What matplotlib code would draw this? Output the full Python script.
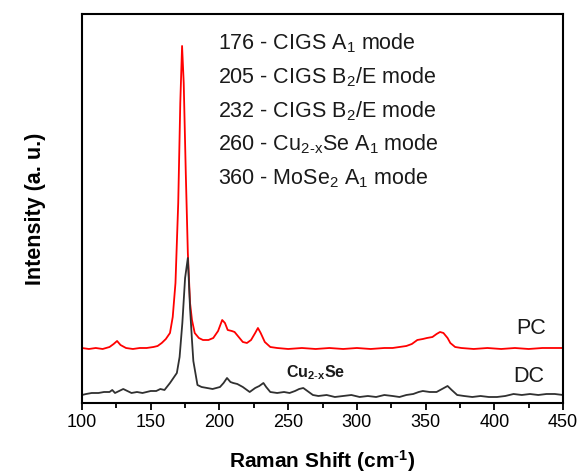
import numpy as np
import matplotlib
matplotlib.use("Agg")
import matplotlib.pyplot as plt

plt.rcParams['font.family'] = ['Liberation Sans', 'DejaVu Sans']
plt.rcParams['mathtext.fontset'] = 'custom'
plt.rcParams['mathtext.rm'] = 'Liberation Sans'
plt.rcParams['mathtext.it'] = 'Liberation Sans'
plt.rcParams['mathtext.bf'] = 'Liberation Sans:bold'
plt.rcParams['mathtext.default'] = 'regular'

# Raman spectra (arbitrary intensity units)
pc_shift = [100, 105, 110, 115, 120, 123, 125.5, 128, 132, 137, 142, 147, 152, 155, 158, 161,
            164, 166, 168, 170, 171.5, 172.8, 174, 175.5, 177, 178.6, 180, 182, 185, 188,
            192, 195.5, 199, 202, 204, 206, 209, 211, 214, 217, 220, 223, 226, 228, 230,
            233, 237, 242, 250, 260, 270, 280, 290, 300, 310, 320, 326, 331, 336, 340,
            344, 348, 351, 355, 358, 360.5, 363, 366, 368, 371.5, 376, 385, 395, 405,
            415, 425, 435, 445, 450]
pc_int = [55, 54, 55, 54, 56, 59, 62, 58, 55, 54, 55, 55, 56, 57, 60, 64,
          70, 86, 120, 200, 300, 357, 320, 230, 150, 100, 83, 70, 65, 63,
          63, 65, 72, 83, 80, 73, 72, 71, 66, 61, 60, 63, 70, 75, 70,
          61, 56, 55, 54, 55, 54, 55, 54, 55, 54, 55, 55, 56, 57, 59,
          63, 64, 65, 66, 69, 71, 70, 65, 60, 56, 55, 54, 55, 54,
          55, 54, 55, 55, 55]

dc_shift = [100, 103, 107, 112, 116, 120, 122, 124, 127, 130, 133, 136, 140, 144, 147, 150,
            154, 157, 160, 164, 167, 169, 171, 173, 175, 177, 178.6, 180, 181, 182.5, 184,
            187, 191, 195, 200.4, 203, 205.5, 208, 210, 213, 217, 220, 222, 226, 229, 232,
            234, 237, 242, 247, 251, 255, 258, 261, 264, 268, 272, 278, 284, 290, 296, 302,
            308, 314, 320, 326, 331, 336, 341, 345, 348, 353, 358, 362, 366, 369, 373,
            378, 384, 390, 396, 402, 408, 414, 420, 426, 432, 438, 444, 450]
dc_int = [8, 9, 10, 10, 11, 11, 13, 10, 12, 14, 12, 10, 11, 10, 11, 12,
          12, 14, 13, 20, 26, 30, 46, 80, 125, 145, 95, 63, 42, 30, 18,
          16, 15, 14, 16, 20, 25, 21, 20, 19, 16, 13, 11, 15, 17, 20,
          16, 11, 10, 11, 10, 12, 14, 15, 12, 8, 7, 8, 6, 7, 8, 6,
          7, 6, 8, 7, 6, 8, 9, 11, 12, 11, 11, 14, 17, 13, 8,
          7, 6, 7, 6, 6, 7, 9, 8, 9, 8, 9, 9, 8]

mode_labels = [r"176 - CIGS A$_1$ mode",
               r"205 - CIGS B$_2$/E mode",
               r"232 - CIGS B$_2$/E mode",
               r"260 - Cu$_{2\text{-}x}$Se A$_1$ mode",
               r"360 - MoSe$_2$ A$_1$ mode"]

fig = plt.figure(figsize=(5.83, 4.74), dpi=100)
ax = fig.add_axes([0.1407, 0.1498, 0.825, 0.8207])

ax.plot(pc_shift, pc_int, color='#ff0000', lw=1.3)
ax.plot(dc_shift, dc_int, color='#303030', lw=1.3)

ax.set_xlim(100, 450)
ax.set_ylim(0, 389)
ax.set_xticks(np.arange(100, 451, 50))
ax.set_xticks(np.arange(125, 450, 50), minor=True)
ax.set_yticks([])
ax.tick_params(axis='x', which='major', direction='out', length=5, width=1.3,
               labelsize=13, top=False, pad=3)
ax.tick_params(axis='x', which='minor', direction='out', length=3.5, width=1.3, top=False)
for s in ax.spines.values():
    s.set_linewidth(1.5)

ax.set_xlabel("Raman Shift (cm$^{\\mathbf{\u2010 1}}$)", fontsize=15, fontweight='bold', labelpad=12)
ax.set_ylabel("Intensity (a. u.)", fontsize=15.5, fontweight='bold', labelpad=26)

for i, lab in enumerate(mode_labels):
    ax.text(0.283, 0.925 - i * 0.087, lab, transform=ax.transAxes, fontsize=15.5,
            va='center', ha='left', color='#1a1a1a')

ax.text(0.965, 0.192, "PC", transform=ax.transAxes, fontsize=15.5, ha='right', va='center',
        color='#1a1a1a')
ax.text(0.96, 0.069, "DC", transform=ax.transAxes, fontsize=15.5, ha='right', va='center',
        color='#1a1a1a')
ax.text(0.424, 0.077, r"Cu$_{\mathbf{2\text{-}x}}$Se", transform=ax.transAxes, fontsize=11.5,
        fontweight='bold', ha='left', va='center', color='#1a1a1a')

fig.savefig("out.png", dpi=100)
